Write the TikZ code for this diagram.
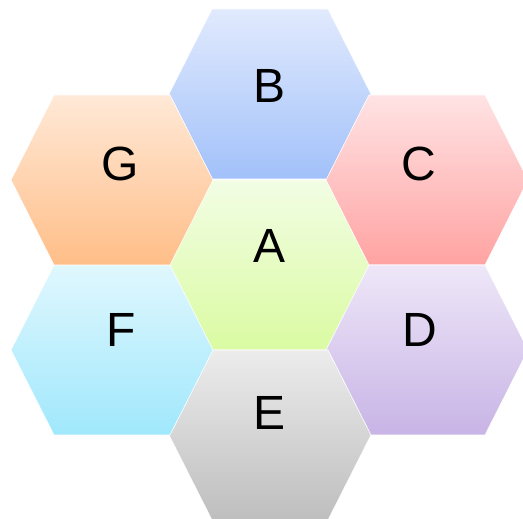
\documentclass[tikz,border=0pt]{standalone}
\usepackage{fontspec}
\setmainfont{Liberation Sans}
\usepackage{tikz}
\usetikzlibrary{positioning}
\usepackage{xcolor}
\definecolor{hexAtop}{RGB}{242,253,228}
\definecolor{hexAbot}{RGB}{218,251,162}
\definecolor{hexBtop}{RGB}{225,234,253}
\definecolor{hexBbot}{RGB}{162,193,250}
\definecolor{hexCtop}{RGB}{255,227,228}
\definecolor{hexCbot}{RGB}{255,163,162}
\definecolor{hexDtop}{RGB}{238,231,248}
\definecolor{hexDbot}{RGB}{200,180,230}
\definecolor{hexEtop}{RGB}{236,236,236}
\definecolor{hexEbot}{RGB}{190,190,190}
\definecolor{hexFtop}{RGB}{224,247,254}
\definecolor{hexFbot}{RGB}{160,232,252}
\definecolor{hexGtop}{RGB}{255,233,215}
\definecolor{hexGbot}{RGB}{255,190,136}

\begin{document}
\begin{tikzpicture}[
  x=1pt, y=1pt,
  every node/.style={font=\fontsize{48}{56}\selectfont, align=center},
  hexcell/.style={draw=white, line width=0.6pt},
  hexlabel/.style={inner sep=0pt, text=black}
]
  \useasboundingbox (0,0) rectangle (523,519);
  % Cells
  \foreach \name/\cx/\cy/\lx/\ly in {A/270/254/270/273, B/270/425/270/433,
      C/427/339/419/355, D/427/169/420/189, E/270/84/270/106,
      F/112/169/121/189, G/112/339/120/355}{
    \path[hexcell, top color=hex\name top, bottom color=hex\name bot]
      (\cx,\cy) ++(-101,0) -- ++(43,85) -- ++(116,0) -- ++(43,-85)
      -- ++(-43,-85) -- ++(-116,0) -- cycle;
    \node (\name) [hexlabel] at (\lx,\ly) {\name};
  }
\end{tikzpicture}
\end{document}
